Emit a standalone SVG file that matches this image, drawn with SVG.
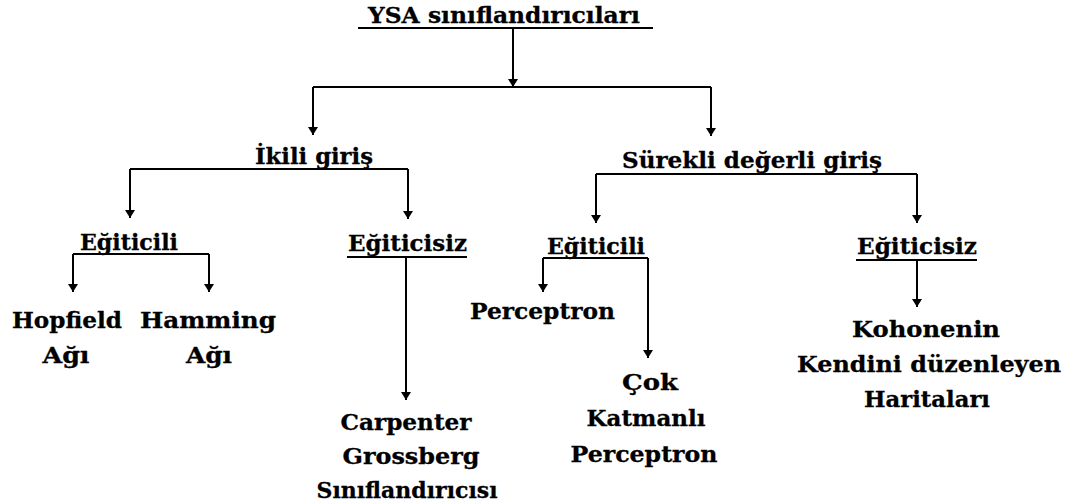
<svg xmlns="http://www.w3.org/2000/svg" width="1075" height="504" viewBox="0 0 1075 504">
  <style>
    .lbl { font-family: "DejaVu Serif", "Liberation Serif", serif; font-weight: bold; font-size: 23px; fill: #000; stroke: #000; stroke-width: 0.3; text-anchor: middle; }
    .st { text-anchor: start; }
    .ln { stroke: #000; stroke-width: 2; fill: none; }
    .arr { stroke: #000; stroke-width: 2; fill: none; marker-end: url(#head); }
  </style>
  <defs>
    <marker id="head" viewBox="0 0 8 10" refX="8" refY="5" markerWidth="8" markerHeight="10" markerUnits="userSpaceOnUse" orient="auto">
      <path d="M0,0 L8,5 L0,10 z" fill="#000"/>
    </marker>
  </defs>

  <rect width="1075" height="504" fill="#fff"/>

  <!-- connectors -->
  <g id="connectors">
    <!-- root -->
    <path class="arr" d="M513,28 V87"/>
    <path class="ln" d="M313,87 H711"/>
    <path class="arr" d="M313,87 V135"/>
    <path class="arr" d="M711,87 V136"/>
    <!-- İkili giriş -->
    <path class="ln" d="M130,169 H408"/>
    <path class="arr" d="M130,169 V218"/>
    <path class="arr" d="M408,169 V219"/>
    <!-- Sürekli değerli giriş -->
    <path class="ln" d="M596,174 H917"/>
    <path class="arr" d="M596,174 V223"/>
    <path class="arr" d="M917,174 V223"/>
    <!-- Eğiticili (ikili) -->
    <path class="ln" d="M73,254 H209"/>
    <path class="arr" d="M73,254 V292"/>
    <path class="arr" d="M209,254 V292"/>
    <!-- Eğiticisiz (ikili) -->
    <path class="arr" d="M406,257 V400"/>
    <!-- Eğiticili (sürekli) -->
    <path class="ln" d="M543,258 H648"/>
    <path class="arr" d="M543,258 V292"/>
    <path class="arr" d="M648,258 V358"/>
    <!-- Eğiticisiz (sürekli) -->
    <path class="arr" d="M917,260 V307"/>
  </g>

  <g id="root">
    <text class="lbl st" x="368" y="23" textLength="272" lengthAdjust="spacingAndGlyphs">YSA sınıflandırıcıları</text>
    <path class="ln" d="M358,28 H653"/>
  </g>

  <g id="ikili-giris">
    <text class="lbl st" x="255" y="164" textLength="118" lengthAdjust="spacingAndGlyphs">İkili giriş</text>
  </g>

  <g id="surekli-giris">
    <text class="lbl st" x="622" y="168" textLength="260" lengthAdjust="spacingAndGlyphs">Sürekli değerli giriş</text>
  </g>

  <g id="ikili-egiticili">
    <text class="lbl st" x="80" y="250" textLength="98" lengthAdjust="spacingAndGlyphs">Eğiticili</text>
  </g>

  <g id="ikili-egiticisiz">
    <text class="lbl st" x="348" y="251" textLength="119" lengthAdjust="spacingAndGlyphs">Eğiticisiz</text>
    <path class="ln" d="M347,257 H467"/>
  </g>

  <g id="surekli-egiticili">
    <text class="lbl st" x="547" y="254" textLength="98" lengthAdjust="spacingAndGlyphs">Eğiticili</text>
  </g>

  <g id="surekli-egiticisiz">
    <text class="lbl st" x="857" y="254" textLength="120" lengthAdjust="spacingAndGlyphs">Eğiticisiz</text>
    <path class="ln" d="M856,260 H977"/>
  </g>

  <g id="hopfield">
    <text class="lbl" x="67" y="328" textLength="110" lengthAdjust="spacingAndGlyphs">Hopfield</text>
    <text class="lbl" x="66" y="363" textLength="47" lengthAdjust="spacingAndGlyphs">Ağı</text>
  </g>

  <g id="hamming">
    <text class="lbl" x="208" y="328" textLength="136" lengthAdjust="spacingAndGlyphs">Hamming</text>
    <text class="lbl" x="209" y="363" textLength="46" lengthAdjust="spacingAndGlyphs">Ağı</text>
  </g>

  <g id="carpenter-grossberg">
    <text class="lbl" x="406" y="430" textLength="131" lengthAdjust="spacingAndGlyphs">Carpenter</text>
    <text class="lbl" x="411" y="464" textLength="137" lengthAdjust="spacingAndGlyphs">Grossberg</text>
    <text class="lbl" x="407" y="498" textLength="181" lengthAdjust="spacingAndGlyphs">Sınıflandırıcısı</text>
  </g>

  <g id="perceptron">
    <text class="lbl st" x="470" y="319" textLength="145" lengthAdjust="spacingAndGlyphs">Perceptron</text>
  </g>

  <g id="cok-katmanli">
    <text class="lbl" x="650" y="390" textLength="56" lengthAdjust="spacingAndGlyphs">Çok</text>
    <text class="lbl" x="646" y="426" textLength="119" lengthAdjust="spacingAndGlyphs">Katmanlı</text>
    <text class="lbl" x="644" y="462" textLength="147" lengthAdjust="spacingAndGlyphs">Perceptron</text>
  </g>

  <g id="kohonen">
    <text class="lbl" x="926" y="337" textLength="148" lengthAdjust="spacingAndGlyphs">Kohonenin</text>
    <text class="lbl" x="929" y="372" textLength="264" lengthAdjust="spacingAndGlyphs">Kendini düzenleyen</text>
    <text class="lbl" x="927" y="407" textLength="126" lengthAdjust="spacingAndGlyphs">Haritaları</text>
  </g>
</svg>
